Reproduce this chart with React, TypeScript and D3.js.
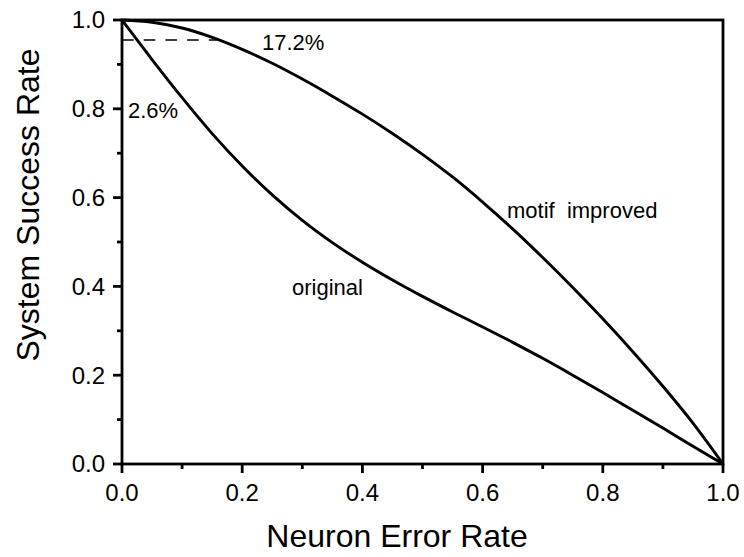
import React from "react";
import * as d3 from "d3";

const xValues = [0, 0.05, 0.1, 0.15, 0.2, 0.25, 0.3, 0.35, 0.4, 0.45, 0.5, 0.55, 0.6, 0.65, 0.7, 0.75, 0.8, 0.85, 0.9, 0.95, 1.0];
const originalValues = [1, 0.911, 0.825, 0.744, 0.671, 0.606, 0.5485, 0.4985, 0.4545, 0.4145, 0.3775, 0.3425, 0.3085, 0.274, 0.238, 0.2, 0.161, 0.121, 0.081, 0.04, 0];
const motifValues = [1, 0.995, 0.982, 0.961, 0.934, 0.9025, 0.867, 0.8285, 0.788, 0.7445, 0.6975, 0.6465, 0.59, 0.5295, 0.465, 0.3975, 0.327, 0.253, 0.175, 0.092, 0];
const majorTicks = [0, 0.2, 0.4, 0.6, 0.8, 1.0];
const minorTicks = [0.1, 0.3, 0.5, 0.7, 0.9];
const dashedLevel = 0.955;
const dashedEnd = 0.158;

const W = 744;
const H = 557;
const left = 122, right = 723, top = 20, bottom = 464;
const font = "'Liberation Sans', Arial, Helvetica, sans-serif";

export default function App() {
  const x = d3.scaleLinear().domain([0, 1]).range([left, right]);
  const y = d3.scaleLinear().domain([0, 1]).range([bottom, top]);
  const line = d3
    .line<number>()
    .x((_, i) => x(xValues[i]))
    .y((d) => y(d))
    .curve(d3.curveMonotoneX);

  return (
    <div style={{ position: "absolute", left: 0, top: 0 }}>
      <svg width={W} height={H} style={{ display: "block", background: "#fff" }} fontFamily={font}>
        <rect x={0} y={0} width={W} height={H} fill="#fff" />
        {/* curves */}
        <path d={line(originalValues) || ""} fill="none" stroke="#000" strokeWidth={2.9} />
        <path d={line(motifValues) || ""} fill="none" stroke="#000" strokeWidth={2.9} />
        {/* dashed reference */}
        <line x1={x(0)} x2={x(dashedEnd)} y1={y(dashedLevel)} y2={y(dashedLevel)} stroke="#000" strokeWidth={1.6} strokeDasharray="11.7,10" />
        {/* frame */}
        <rect x={left} y={top} width={right - left} height={bottom - top} fill="none" stroke="#000" strokeWidth={2.8} />
        {/* x ticks */}
        {majorTicks.map((t) => (
          <g key={"xm" + t}>
            <line x1={x(t)} x2={x(t)} y1={bottom} y2={bottom + 9} stroke="#000" strokeWidth={2.8} />
            <text x={x(t)} y={501} textAnchor="middle" fontSize={24} fill="#000">
              {t.toFixed(1)}
            </text>
          </g>
        ))}
        {minorTicks.map((t) => (
          <line key={"xn" + t} x1={x(t)} x2={x(t)} y1={bottom} y2={bottom + 5} stroke="#000" strokeWidth={2.8} />
        ))}
        {/* y ticks */}
        {majorTicks.map((t) => (
          <g key={"ym" + t}>
            <line x1={left} x2={left - 9} y1={y(t)} y2={y(t)} stroke="#000" strokeWidth={2.8} />
            <text x={105} y={y(t) + 8.3} textAnchor="end" fontSize={24} fill="#000">
              {t.toFixed(1)}
            </text>
          </g>
        ))}
        {minorTicks.map((t) => (
          <line key={"yn" + t} x1={left} x2={left - 5} y1={y(t)} y2={y(t)} stroke="#000" strokeWidth={2.8} />
        ))}
        {/* annotations */}
        <text x={262} y={50} fontSize={22} fill="#000">17.2%</text>
        <text x={128} y={118} fontSize={22} fill="#000">2.6%</text>
        <text x={292} y={295} fontSize={22} fill="#000">original</text>
        <text x={507} y={218} fontSize={22} fill="#000" style={{ whiteSpace: "pre" }}>{"motif  improved"}</text>
        {/* axis titles */}
        <text x={397} y={547} textAnchor="middle" fontSize={32} fill="#000">Neuron Error Rate</text>
        <text transform="translate(39,205) rotate(-90)" textAnchor="middle" fontSize={32} fill="#000">System Success Rate</text>
      </svg>
    </div>
  );
}
